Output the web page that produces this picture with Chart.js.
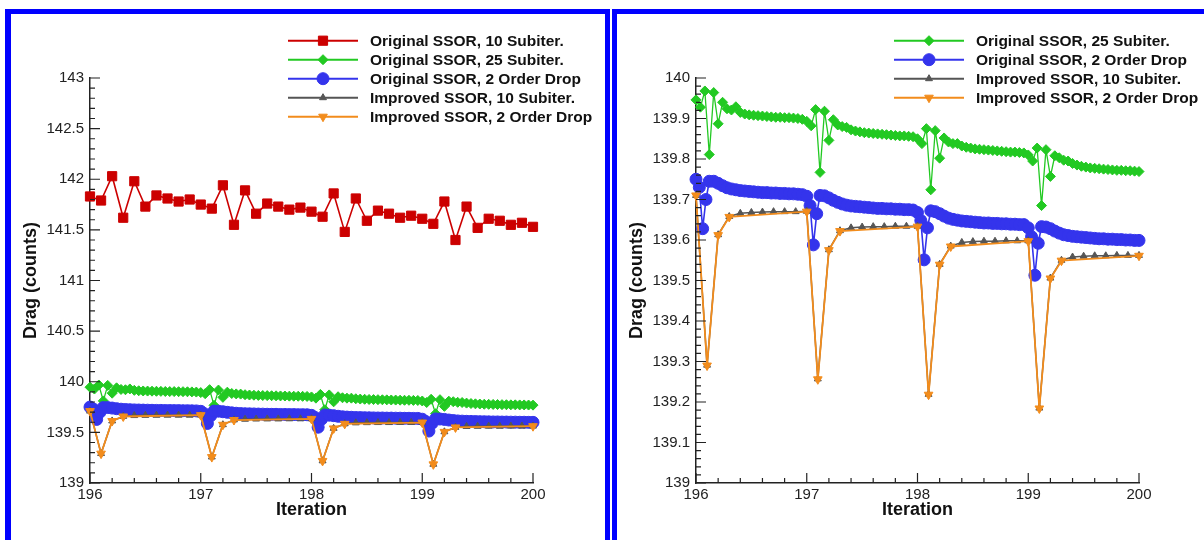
<!DOCTYPE html>
<html><head><meta charset="utf-8">
<script src="https://cdn.jsdelivr.net/npm/chart.js@4/dist/chart.umd.min.js"></script>
<style>
html,body{margin:0;padding:0;background:#fff;width:1204px;height:540px;overflow:hidden;position:relative;}
.frame{position:absolute;box-sizing:border-box;border-style:solid;border-color:#0000ff;pointer-events:none;}
canvas{position:absolute;top:0;}
</style></head><body>
<canvas id="leftChart" width="605" height="540" style="left:0px"></canvas>
<canvas id="rightChart" width="592" height="540" style="left:612px"></canvas>
<div class="frame" style="left:5px;top:9px;width:605px;height:531px;border-width:5px 5px 0 6px;"></div>
<div class="frame" style="left:612px;top:9px;width:600px;height:531px;border-width:5px 0 0 5px;"></div>
<script>
// ---------------- DATA ----------------
const seriesNames = [
  'Original SSOR, 10 Subiter.',
  'Original SSOR, 25 Subiter.',
  'Original SSOR, 2 Order Drop',
  'Improved SSOR, 10 Subiter.',
  'Improved SSOR, 2 Order Drop'
];

// 10 sub-iterations per iteration (red and gray)
const iter10X = [196.0,196.1,196.2,196.3,196.4,196.5,196.6,196.7,196.8,196.9,
  197.0,197.1,197.2,197.3,197.4,197.5,197.6,197.7,197.8,197.9,
  198.0,198.1,198.2,198.3,198.4,198.5,198.6,198.7,198.8,198.9,
  199.0,199.1,199.2,199.3,199.4,199.5,199.6,199.7,199.8,199.9,200.0];

const origSub10Y = [141.83,141.79,142.03,141.62,141.98,141.73,141.84,141.81,141.78,141.80,
  141.75,141.71,141.94,141.55,141.89,141.66,141.76,141.73,141.70,141.72,
  141.68,141.63,141.86,141.48,141.81,141.59,141.69,141.66,141.62,141.64,
  141.61,141.56,141.78,141.40,141.73,141.52,141.61,141.59,141.55,141.57,141.53];

const impSub10Y = [139.710,139.291,139.613,139.658,139.666,139.668,139.669,139.670,139.670,139.670,
  139.671,139.257,139.576,139.623,139.630,139.632,139.633,139.633,139.634,139.634,
  139.634,139.219,139.540,139.585,139.594,139.596,139.597,139.597,139.598,139.598,
  139.598,139.185,139.506,139.550,139.558,139.560,139.561,139.561,139.562,139.562,139.562];

// 25 sub-iterations per iteration (green)
const iter25X = [196.00,196.04,196.08,196.12,196.16,196.20,196.24,196.28,196.32,196.36,196.40,196.44,196.48,196.52,196.56,196.60,196.64,196.68,196.72,196.76,196.80,196.84,196.88,196.92,196.96,
  197.00,197.04,197.08,197.12,197.16,197.20,197.24,197.28,197.32,197.36,197.40,197.44,197.48,197.52,197.56,197.60,197.64,197.68,197.72,197.76,197.80,197.84,197.88,197.92,197.96,
  198.00,198.04,198.08,198.12,198.16,198.20,198.24,198.28,198.32,198.36,198.40,198.44,198.48,198.52,198.56,198.60,198.64,198.68,198.72,198.76,198.80,198.84,198.88,198.92,198.96,
  199.00,199.04,199.08,199.12,199.16,199.20,199.24,199.28,199.32,199.36,199.40,199.44,199.48,199.52,199.56,199.60,199.64,199.68,199.72,199.76,199.80,199.84,199.88,199.92,199.96,
  200.00];

const origSub25Y = [139.946,139.928,139.968,139.811,139.964,139.887,139.940,139.924,139.921,139.929,139.915,139.911,139.909,139.908,139.907,139.906,139.905,139.904,139.903,139.903,139.902,139.902,139.901,139.900,139.898,
  139.893,139.882,139.922,139.767,139.918,139.846,139.897,139.884,139.880,139.878,139.872,139.869,139.867,139.865,139.864,139.863,139.862,139.861,139.860,139.859,139.858,139.857,139.857,139.856,139.855,
  139.850,139.838,139.875,139.724,139.870,139.802,139.852,139.842,139.838,139.838,139.832,139.829,139.827,139.825,139.824,139.823,139.822,139.821,139.820,139.819,139.818,139.817,139.817,139.816,139.815,
  139.810,139.795,139.827,139.685,139.823,139.757,139.808,139.803,139.797,139.795,139.789,139.785,139.782,139.780,139.778,139.777,139.776,139.775,139.774,139.773,139.772,139.772,139.771,139.771,139.770,
  139.769];

// Original SSOR, 2 order drop (blue)
const origDropX = [196.00,196.03,196.06,196.09,196.12,196.16,196.20,196.24,196.28,196.32,196.36,196.40,196.44,196.48,196.52,196.56,196.60,196.64,196.68,196.72,196.76,196.80,196.84,196.88,196.92,196.96,
  197.00,197.03,197.06,197.09,197.12,197.16,197.20,197.24,197.28,197.32,197.36,197.40,197.44,197.48,197.52,197.56,197.60,197.64,197.68,197.72,197.76,197.80,197.84,197.88,197.92,197.96,
  198.00,198.03,198.06,198.09,198.12,198.16,198.20,198.24,198.28,198.32,198.36,198.40,198.44,198.48,198.52,198.56,198.60,198.64,198.68,198.72,198.76,198.80,198.84,198.88,198.92,198.96,
  199.00,199.03,199.06,199.09,199.12,199.16,199.20,199.24,199.28,199.32,199.36,199.40,199.44,199.48,199.52,199.56,199.60,199.64,199.68,199.72,199.76,199.80,199.84,199.88,199.92,199.96,
  200.00];

const origDropY = [139.750,139.730,139.628,139.700,139.745,139.745,139.740,139.734,139.729,139.726,139.724,139.722,139.721,139.720,139.719,139.718,139.717,139.717,139.716,139.716,139.715,139.715,139.714,139.714,139.713,139.712,
  139.708,139.685,139.588,139.665,139.710,139.709,139.704,139.698,139.693,139.689,139.686,139.684,139.683,139.682,139.681,139.680,139.679,139.678,139.678,139.677,139.677,139.676,139.676,139.675,139.675,139.674,
  139.668,139.648,139.551,139.630,139.672,139.670,139.665,139.659,139.654,139.651,139.649,139.647,139.646,139.645,139.644,139.643,139.642,139.642,139.641,139.641,139.640,139.640,139.639,139.639,139.638,139.638,
  139.630,139.608,139.513,139.592,139.633,139.632,139.628,139.622,139.617,139.613,139.611,139.609,139.608,139.607,139.606,139.605,139.604,139.603,139.603,139.602,139.602,139.601,139.601,139.600,139.600,139.599,
  139.599];

// Improved SSOR, 2 order drop (orange)
const impDropX = [196.0,196.1,196.2,196.3,197.0,197.1,197.2,197.3,198.0,198.1,198.2,198.3,199.0,199.1,199.2,199.3,200.0];
const impDropY = [139.710,139.290,139.612,139.657,139.670,139.256,139.575,139.622,139.633,139.218,139.539,139.584,139.597,139.184,139.505,139.549,139.561];

// Tick labels
const xTickLabels = ['196','197','198','199','200'];
const yTickLabelsLeft = ['139','139.5','140','140.5','141','141.5','142','142.5','143'];
const yTickLabelsRight = ['139','139.1','139.2','139.3','139.4','139.5','139.6','139.7','139.8','139.9','140'];

// ---------------- HELPERS ----------------
const FONT = '"Liberation Sans", Arial, Helvetica, sans-serif';
Chart.defaults.font.family = FONT;

function pts(xs, ys) { return xs.map((x, i) => ({x: x, y: ys[i]})); }

const styles = [
  {color:'#cc0000', point:'rect', radius:6.5, rot:0, lw:1.6, order:5},
  {color:'#22c922', point:'rectRot', radius:5, rot:0, lw:1.3, order:4},
  {color:'#3434ec', point:'circle', radius:6, rot:0, lw:1.6, order:3},
  {color:'#555555', point:'triangle', radius:4, rot:0, lw:1.5, order:2},
  {color:'#f28c1c', point:'triangle', radius:5, rot:180, lw:1.8, order:1}
];
const seriesData = [
  pts(iter10X, origSub10Y),
  pts(iter25X, origSub25Y),
  pts(origDropX, origDropY),
  pts(iter10X, impSub10Y),
  pts(impDropX, impDropY)
];

function makeDatasets(indices) {
  return indices.map(i => {
    const s = styles[i];
    return {
      label: seriesNames[i],
      data: seriesData[i],
      borderColor: s.color,
      backgroundColor: s.color,
      pointBackgroundColor: s.color,
      pointBorderColor: s.color,
      pointBorderWidth: 1,
      pointStyle: s.point,
      pointRotation: s.rot,
      pointRadius: s.radius,
      pointHoverRadius: s.radius,
      borderWidth: s.lw,
      tension: 0,
      fill: false,
      clip: false,
      order: s.order
    };
  });
}

const tickPlugin = {
  id: 'inwardTicks',
  afterDraw(chart, args, o) {
    const ctx = chart.ctx, ca = chart.chartArea;
    const xs = chart.scales.x, ys = chart.scales.y;
    ctx.save();
    ctx.strokeStyle = o.color; ctx.lineWidth = o.width;
    ctx.beginPath();
    const nX = Math.round((xs.max - xs.min) / o.xMinor), rX = Math.round(o.xMajor / o.xMinor);
    for (let i = 0; i <= nX; i++) {
      const px = xs.getPixelForValue(xs.min + i * o.xMinor);
      const len = (i % rX === 0) ? o.major : o.minor;
      ctx.moveTo(px, ca.bottom); ctx.lineTo(px, ca.bottom - len);
    }
    const nY = Math.round((ys.max - ys.min) / o.yMinor), rY = Math.round(o.yMajor / o.yMinor);
    for (let i = 0; i <= nY; i++) {
      const py = ys.getPixelForValue(ys.min + i * o.yMinor);
      const len = (i % rY === 0) ? o.major : o.minor;
      ctx.moveTo(ca.left, py); ctx.lineTo(ca.left + len, py);
    }
    ctx.stroke();
    ctx.restore();
  }
};

const legendPlugin = {
  id: 'frameLegend',
  afterDraw(chart, args, o) {
    const ctx = chart.ctx, ca = chart.chartArea;
    const x0 = ca.left + o.offsetX;
    chart.data.datasets.forEach((ds, i) => {
      const y = ca.top + o.offsetY + i * o.rowHeight;
      ctx.save();
      ctx.strokeStyle = ds.borderColor; ctx.lineWidth = 2;
      ctx.beginPath(); ctx.moveTo(x0, y); ctx.lineTo(x0 + o.lineLength, y); ctx.stroke();
      ctx.fillStyle = ds.pointBackgroundColor; ctx.strokeStyle = ds.pointBorderColor; ctx.lineWidth = 1;
      Chart.helpers.drawPoint(ctx, {pointStyle: ds.pointStyle, rotation: ds.pointRotation, radius: ds.pointRadius, borderWidth: 1}, x0 + o.lineLength / 2, y);
      ctx.fillStyle = '#111';
      ctx.font = 'bold ' + o.fontSize + 'px ' + FONT;
      ctx.textAlign = 'left'; ctx.textBaseline = 'middle';
      ctx.fillText(ds.label, x0 + o.textOffset, y + 1);
      ctx.restore();
    });
  }
};

function labelFrom(list) {
  return function(v) {
    const s = list.find(l => Math.abs(parseFloat(l) - v) < 1e-6);
    return s === undefined ? '' : s;
  };
}

function makeOptions(cfg) {
  return {
    responsive: false,
    animation: false,
    devicePixelRatio: 1,
    layout: {padding: {left: 0, right: cfg.padRight, top: 78, bottom: 0}},
    plugins: {
      legend: {display: false},
      tooltip: {enabled: false},
      inwardTicks: {color: '#222', width: 1.2, major: 10, minor: 5, xMajor: 1, xMinor: 0.2, yMajor: cfg.yMajor, yMinor: cfg.yMinor},
      frameLegend: {offsetX: 198, offsetY: -37.3, rowHeight: 19, lineLength: 70, textOffset: 82, fontSize: 15.5}
    },
    scales: {
      x: {
        type: 'linear', min: 196, max: 200,
        grid: {display: false, drawTicks: false},
        border: {display: true, color: '#222', width: 1.5},
        ticks: {stepSize: 1, autoSkip: false, maxRotation: 0, padding: 3, color: '#222', font: {size: 15}, callback: labelFrom(xTickLabels)},
        title: {display: true, text: 'Iteration', color: '#111', font: {size: 18, weight: 'bold'}, padding: {top: 0, bottom: 19}},
        afterFit: s => { s.height = 57; }
      },
      y: {
        type: 'linear', min: cfg.yMin, max: cfg.yMax,
        grid: {display: false, drawTicks: false},
        border: {display: true, color: '#222', width: 1.5},
        ticks: {stepSize: cfg.yMajor, autoSkip: false, padding: 6, color: '#222', font: {size: 15}, callback: labelFrom(cfg.yLabels)},
        title: {display: true, text: 'Drag (counts)', color: '#111', font: {size: 18, weight: 'bold'}, padding: {top: cfg.titlePad, bottom: 0}},
        afterFit: s => { s.width = cfg.yWidth; }
      }
    }
  };
}

new Chart(document.getElementById('leftChart'), {
  type: 'line',
  data: {datasets: makeDatasets([0, 1, 2, 3, 4])},
  options: makeOptions({padRight: 72, yMin: 139, yMax: 143, yMajor: 0.5, yMinor: 0.1, yLabels: yTickLabelsLeft, yWidth: 90, titlePad: 20}),
  plugins: [tickPlugin, legendPlugin]
});

new Chart(document.getElementById('rightChart'), {
  type: 'line',
  data: {datasets: makeDatasets([1, 2, 3, 4])},
  options: makeOptions({padRight: 65, yMin: 139, yMax: 140, yMajor: 0.1, yMinor: 0.02, yLabels: yTickLabelsRight, yWidth: 84, titlePad: 14}),
  plugins: [tickPlugin, legendPlugin]
});
</script>
</body></html>
